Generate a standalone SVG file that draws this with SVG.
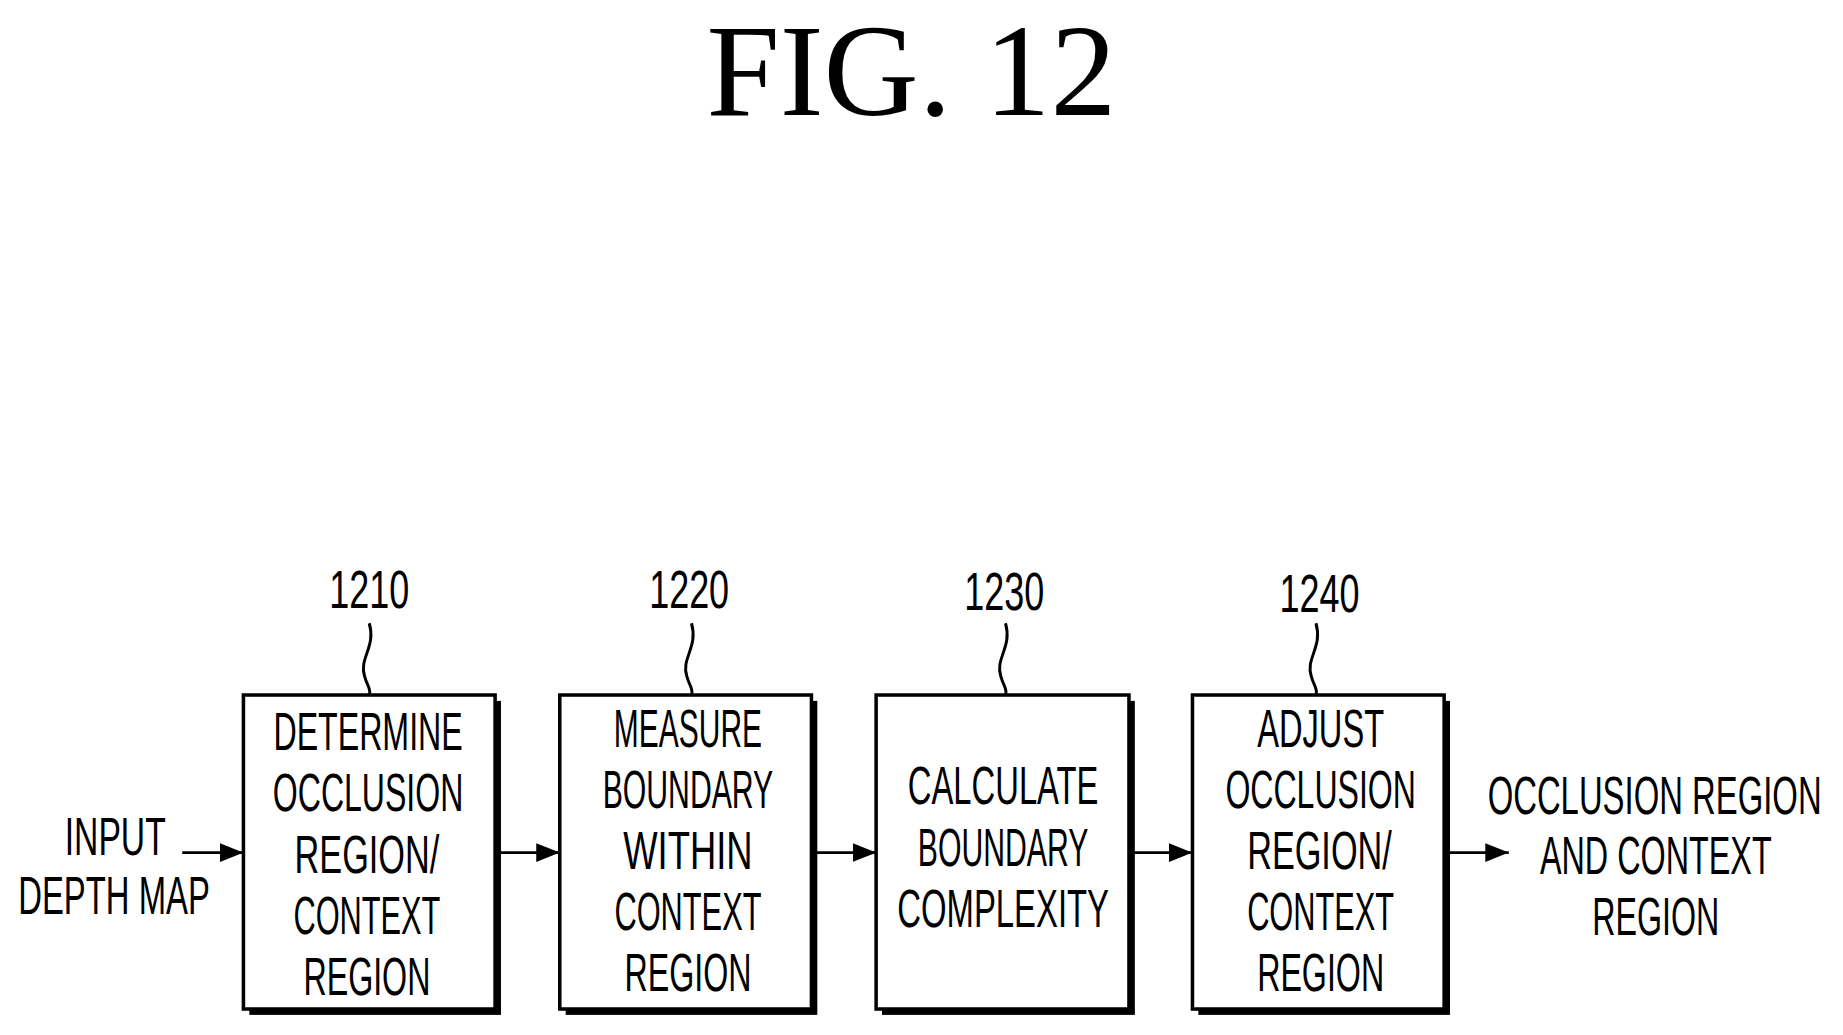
<svg xmlns="http://www.w3.org/2000/svg" width="1843" height="1035" viewBox="0 0 1843 1035">
<style>
.t{font-family:"Liberation Sans",Arial,sans-serif;font-size:46px;text-anchor:middle;fill:#000}
.box{fill:#fff;stroke:#000;stroke-width:3}
.sh{fill:#000}
.ln{stroke:#000;stroke-width:2.5;fill:none}
</style>
<defs>
<marker id="a" viewBox="0 0 20 20" refX="20" refY="10" markerWidth="20" markerHeight="20" orient="auto" markerUnits="userSpaceOnUse"><path d="M0,2 L20,10 L0,18 Z" fill="#000"/></marker></defs>
<rect width="1843" height="1035" fill="#fff"/>
<g transform="scale(1.176,1.176)">
<text x="775" y="98" style="font-family:'Liberation Serif',serif;font-size:112px;text-anchor:middle">FIG. 12</text>
<g id="connectors">
<path class="ln" d="M314,530 C320,550 305,560 310,575 C312,583 316,586 314,591"/>
<path class="ln" d="M588,530 C594,550 579,560 584,575 C586,583 590,586 588,591"/>
<path class="ln" d="M855,530 C861,550 846,560 851,575 C853,583 857,586 855,591"/>
<path class="ln" d="M1119,530 C1125,550 1110,560 1115,575 C1117,583 1121,586 1119,591"/>
<line class="ln" x1="155" y1="725" x2="207" y2="725" marker-end="url(#a)"/>
<line class="ln" x1="424" y1="725" x2="476" y2="725" marker-end="url(#a)"/>
<line class="ln" x1="693" y1="725" x2="745" y2="725" marker-end="url(#a)"/>
<line class="ln" x1="962" y1="725" x2="1014" y2="725" marker-end="url(#a)"/>
<line class="ln" x1="1231" y1="725" x2="1283" y2="725" marker-end="url(#a)"/>
</g>
<g id="in"><text class="t" x="98" y="727" textLength="86" lengthAdjust="spacingAndGlyphs">INPUT</text><text class="t" x="97" y="777" textLength="163" lengthAdjust="spacingAndGlyphs">DEPTH MAP</text></g>
<g id="n1210"><rect class="sh" x="212" y="596" width="214" height="267"/><rect class="box" x="207" y="591" width="214" height="267"/>
<text class="t" x="314" y="517" textLength="68" lengthAdjust="spacingAndGlyphs">1210</text>
<text class="t" x="313" y="638" textLength="161" lengthAdjust="spacingAndGlyphs">DETERMINE</text>
<text class="t" x="313" y="690" textLength="162" lengthAdjust="spacingAndGlyphs">OCCLUSION</text>
<text class="t" x="312" y="742" textLength="123" lengthAdjust="spacingAndGlyphs">REGION/</text>
<text class="t" x="312" y="794" textLength="125" lengthAdjust="spacingAndGlyphs">CONTEXT</text>
<text class="t" x="312" y="846" textLength="108" lengthAdjust="spacingAndGlyphs">REGION</text></g>
<g id="n1220"><rect class="sh" x="481" y="596" width="214" height="267"/><rect class="box" x="476" y="591" width="214" height="267"/>
<text class="t" x="586" y="517" textLength="68" lengthAdjust="spacingAndGlyphs">1220</text>
<text class="t" x="585" y="635" textLength="126" lengthAdjust="spacingAndGlyphs">MEASURE</text>
<text class="t" x="585" y="687" textLength="145" lengthAdjust="spacingAndGlyphs">BOUNDARY</text>
<text class="t" x="585" y="739" textLength="110" lengthAdjust="spacingAndGlyphs">WITHIN</text>
<text class="t" x="585" y="791" textLength="125" lengthAdjust="spacingAndGlyphs">CONTEXT</text>
<text class="t" x="585" y="843" textLength="108" lengthAdjust="spacingAndGlyphs">REGION</text></g>
<g id="n1230"><rect class="sh" x="750" y="596" width="215" height="267"/><rect class="box" x="745" y="591" width="215" height="267"/>
<text class="t" x="854" y="519" textLength="68" lengthAdjust="spacingAndGlyphs">1230</text>
<text class="t" x="853" y="684" textLength="162" lengthAdjust="spacingAndGlyphs">CALCULATE</text>
<text class="t" x="853" y="736" textLength="145" lengthAdjust="spacingAndGlyphs">BOUNDARY</text>
<text class="t" x="853" y="788" textLength="180" lengthAdjust="spacingAndGlyphs">COMPLEXITY</text></g>
<g id="n1240"><rect class="sh" x="1019" y="596" width="214" height="267"/><rect class="box" x="1014" y="591" width="214" height="267"/>
<text class="t" x="1122" y="520" textLength="68" lengthAdjust="spacingAndGlyphs">1240</text>
<text class="t" x="1123" y="635" textLength="108" lengthAdjust="spacingAndGlyphs">ADJUST</text>
<text class="t" x="1123" y="687" textLength="162" lengthAdjust="spacingAndGlyphs">OCCLUSION</text>
<text class="t" x="1122" y="739" textLength="123" lengthAdjust="spacingAndGlyphs">REGION/</text>
<text class="t" x="1123" y="791" textLength="125" lengthAdjust="spacingAndGlyphs">CONTEXT</text>
<text class="t" x="1123" y="843" textLength="108" lengthAdjust="spacingAndGlyphs">REGION</text></g>
<g id="out"><text class="t" x="1407" y="692" textLength="284" lengthAdjust="spacingAndGlyphs">OCCLUSION REGION</text>
<text class="t" x="1408" y="743" textLength="197" lengthAdjust="spacingAndGlyphs">AND CONTEXT</text>
<text class="t" x="1408" y="795" textLength="108" lengthAdjust="spacingAndGlyphs">REGION</text></g>
</g>
</svg>
